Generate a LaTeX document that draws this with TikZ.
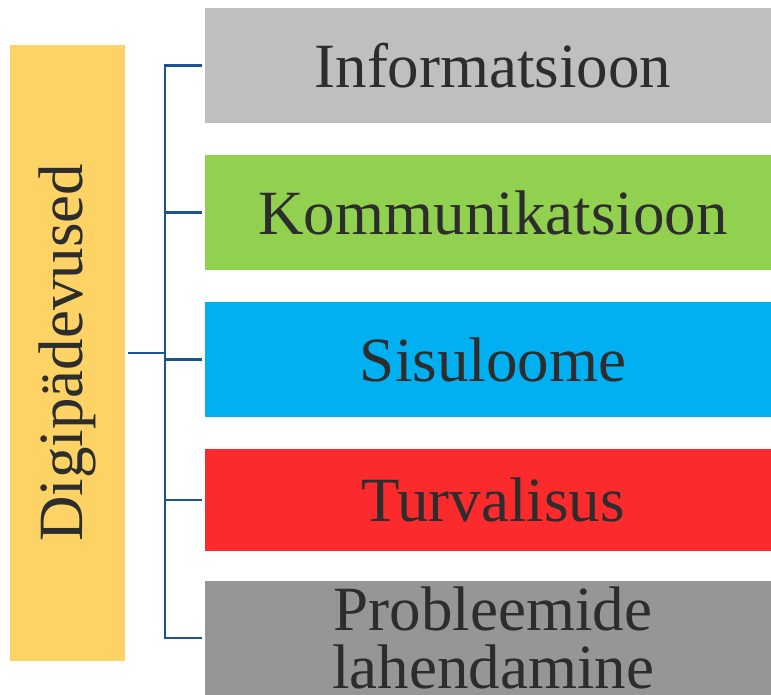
\documentclass[tikz,border=0pt]{standalone}
\usepackage{fontspec}
\setmainfont{Liberation Serif}
\usepackage{xcolor}
\usetikzlibrary{positioning}

\definecolor{digyellow}{HTML}{FDD366}
\definecolor{infogray}{HTML}{BFBFBF}
\definecolor{kommgreen}{HTML}{92D050}
\definecolor{sisublue}{HTML}{00B0F0}
\definecolor{turvred}{HTML}{FB2A2D}
\definecolor{probgray}{HTML}{969696}
\definecolor{linkblue}{HTML}{1A5592}
\definecolor{txtgray}{HTML}{2D2D2D}

\begin{document}
\begin{tikzpicture}[x=1pt, y=-1pt,
        box/.style={rectangle, inner sep=0pt, text=txtgray,
            font=\fontsize{63}{58}\selectfont, minimum width=576pt},
        link/.style={draw=linkblue, line width=2.6pt}]
        \clip (0,0) rectangle (771,695);

        \node (dig) [fill=digyellow, inner sep=0pt, minimum width=115pt, minimum height=616pt] at (67.5,353) {};
        \node (diglabel) [rotate=90, text=txtgray, font=\fontsize{63}{58}\selectfont] at (dig) {Digipädevused};

        \node (info) [box, fill=infogray, minimum height=115pt] at (493,65.5) {Informatsioon};
        \node (komm) [box, fill=kommgreen, minimum height=115pt] at (493,212.5) {Kommunikatsioon};
        \node (sisu) [box, fill=sisublue, minimum height=115pt] at (493,359.5) {Sisuloome};
        \node (turv) [box, fill=turvred, minimum height=102pt] at (493,500) {Turvalisus};
        \node (prob) [box, fill=probgray, minimum height=114pt, align=center] at (493,638) {Probleemide\\lahendamine};

        \coordinate (fork) at (165,353);

        \draw[link, shorten <=3pt] (dig.east) -- (fork);
        \draw[link] ([xshift=-3pt]info.west) -| (fork) |- ([xshift=-3pt]prob.west);
        \draw[link, shorten >=3pt] (fork |- komm.west) -- (komm.west);
        \draw[link, shorten >=3pt] (fork |- sisu.west) -- (sisu.west);
        \draw[link, shorten >=3pt] (fork |- turv.west) -- (turv.west);

    \end{tikzpicture}
\end{document}
